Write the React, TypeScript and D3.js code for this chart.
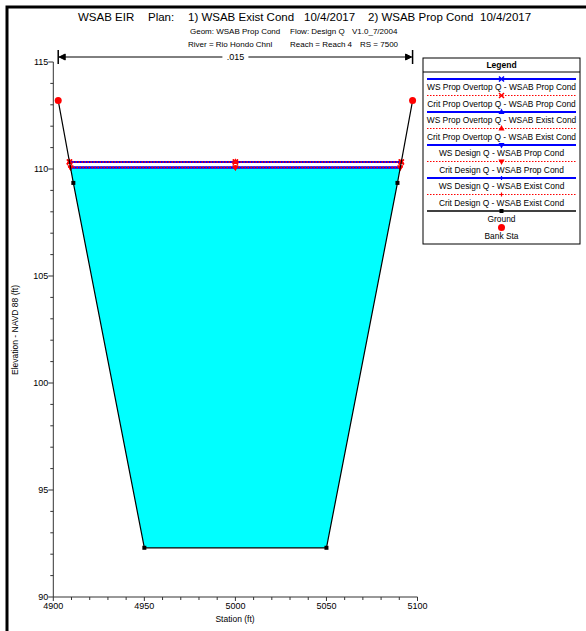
import React, { useEffect } from "react";
import * as d3 from "d3";

const groundSta = [4902.7, 4911, 4950, 5050, 5089, 5097.3];
const groundElev = [113.2, 109.35, 92.3, 92.3, 109.35, 113.2];
const bankSta = [4902.7, 5097.3];
const bankElev = [113.2, 113.2];
const profileNames = [
  "WS Prop Overtop Q - WSAB Prop Cond",
  "Crit Prop Overtop Q - WSAB Prop Cond",
  "WS Prop Overtop Q - WSAB Exist Cond",
  "Crit Prop Overtop Q - WSAB Exist Cond",
  "WS Design Q - WSAB Prop Cond",
  "Crit Design Q - WSAB Prop Cond",
  "WS Design Q - WSAB Exist Cond",
  "Crit Design Q - WSAB Exist Cond",
];
const profileElev = [110.33, 110.33, 110.33, 110.33, 110.07, 110.07, 110.07, 110.07];
const profileMarker = ["x", "x", "tri-up", "tri-up", "tri-down", "tri-down", "plus", "plus"];
const xTicks = [4900, 4950, 5000, 5050, 5100];
const yTicks = [90, 95, 100, 105, 110, 115];
const manningN = [".015"];

const FONT = "'Liberation Sans', Arial, sans-serif";

function intersect(elev: number) {
  const pts = groundSta.map((s, i) => [s, groundElev[i]]);
  let left = 0, right = 0;
  for (let i = 0; i < pts.length - 1; i++) {
    const [x1, y1] = pts[i], [x2, y2] = pts[i + 1];
    if ((y1 - elev) * (y2 - elev) <= 0 && y1 !== y2) {
      const x = x1 + ((elev - y1) / (y2 - y1)) * (x2 - x1);
      if (y1 > y2) left = x; else right = x;
    }
  }
  return [left, right];
}

function Marker({ type, cx, cy, color }: { type: string; cx: number; cy: number; color: string }) {
  if (type === "x")
    return <path d={`M${cx - 2.5},${cy - 2.5}L${cx + 2.5},${cy + 2.5}M${cx - 2.5},${cy + 2.5}L${cx + 2.5},${cy - 2.5}`} stroke={color} strokeWidth={1.5} />;
  if (type === "tri-up")
    return <path d={`M${cx},${cy - 3.5}L${cx + 3},${cy + 2}L${cx - 3},${cy + 2}Z`} fill={color} />;
  if (type === "tri-down")
    return <path d={`M${cx},${cy + 3.5}L${cx + 3},${cy - 2}L${cx - 3},${cy - 2}Z`} fill={color} />;
  if (type === "plus")
    return <path d={`M${cx - 2},${cy}L${cx + 2},${cy}M${cx},${cy - 2}L${cx},${cy + 2}`} stroke={color} strokeWidth={1.2} />;
  return null;
}

export default function App() {
  useEffect(() => {
    document.body.style.margin = "0";
  }, []);
  const W = 586, H = 631;
  const x = d3.scaleLinear().domain([4900, 5100]).range([53.3, 417.5]);
  const y = d3.scaleLinear().domain([90, 115]).range([597, 62]);

  const line = d3.line<number>().x((_, i) => x(groundSta[i])).y((d) => y(d));
  const groundPath = line(groundElev) as string;

  const fillElev = profileElev[4];
  const [wl, wr] = intersect(fillElev);
  const waterPts: [number, number][] = [[wl, fillElev]];
  groundSta.forEach((s, i) => {
    if (groundElev[i] < fillElev) waterPts.push([s, groundElev[i]]);
  });
  waterPts.push([wr, fillElev]);
  const waterPath = d3.line<[number, number]>().x((d) => x(d[0])).y((d) => y(d[1]))(waterPts) + "Z";

  const xMinor = d3.range(4900, 5101, 10);
  const yMinor = d3.range(90, 115.01, 1);

  const legX0 = 423, legX1 = 580, legY0 = 58;
  const rowH = 16.5;
  const legCx = (legX0 + legX1) / 2;

  const nx0 = x(bankSta[0]), nx1 = x(bankSta[1]), ny = 57;
  const ncx = (nx0 + nx1) / 2;

  return (
    <svg width={W} height={H} style={{ display: "block", fontFamily: FONT }}>
      <rect x={0} y={0} width={W} height={H} fill="white" />
      <rect x={7} y={7} width={W + 20} height={H + 20} fill="none" stroke="black" strokeWidth={3} />

      {/* titles */}
      <g fontSize={11.5} fill="black">
        <text x={78} y={21}>WSAB EIR</text>
        <text x={148} y={21}>Plan:</text>
        <text x={188} y={21}>1) WSAB Exist Cond</text>
        <text x={304} y={21}>10/4/2017</text>
        <text x={368} y={21}>2) WSAB Prop Cond</text>
        <text x={480} y={21}>10/4/2017</text>
      </g>
      <g fontSize={8} fill="black">
        <text x={190} y={34}>Geom: WSAB Prop Cond</text>
        <text x={290} y={34}>Flow: Design Q</text>
        <text x={352} y={34}>V1.0_7/2004</text>
        <text x={188} y={47}>River = Rio Hondo Chnl</text>
        <text x={290} y={47}>Reach = Reach 4</text>
        <text x={360} y={47}>RS = 7500</text>
      </g>

      {/* manning n */}
      <g stroke="black" strokeWidth={1}>
        <line x1={nx0} x2={nx0} y1={ny - 7} y2={ny + 7} strokeWidth={1.5} />
        <line x1={nx1} x2={nx1} y1={ny - 7} y2={ny + 7} strokeWidth={1.5} />
        <line x1={nx0 + 1} x2={ncx - 13} y1={ny} y2={ny} />
        <line x1={ncx + 13} x2={nx1 - 1} y1={ny} y2={ny} />
        <path d={`M${nx0 + 1},${ny}L${nx0 + 7},${ny - 3}L${nx0 + 7},${ny + 3}Z`} fill="black" />
        <path d={`M${nx1 - 1},${ny}L${nx1 - 7},${ny - 3}L${nx1 - 7},${ny + 3}Z`} fill="black" />
      </g>
      <text x={ncx} y={ny + 3} fontSize={9} textAnchor="middle">{manningN[0]}</text>

      {/* water */}
      <path d={waterPath} fill="#00FFFF" stroke="none" />

      {/* profiles */}
      {profileNames.map((n, i) => {
        const [l, r] = intersect(profileElev[i]);
        const isWS = i % 2 === 0;
        return (
          <g key={n}>
            <line x1={x(l)} x2={x(r)} y1={y(profileElev[i])} y2={y(profileElev[i])}
              stroke={isWS ? "#0000FF" : "#FF0000"} strokeWidth={isWS ? 2 : 1.5}
              strokeDasharray={isWS ? undefined : "1.5,1.5"} />
          </g>
        );
      })}
      {profileNames.map((n, i) => {
        const [l, r] = intersect(profileElev[i]);
        const color = "#FF0000";
        return (
          <g key={n + "m"}>
            {[l, 5000, r].map((s, k) => (
              <Marker key={k} type={profileMarker[i]} cx={x(s)} cy={y(profileElev[i])} color={color} />
            ))}
          </g>
        );
      })}

      {/* ground */}
      <path d={groundPath} fill="none" stroke="black" strokeWidth={1.2} />
      {groundSta.map((s, i) => (
        <rect key={i} x={x(s) - 2} y={y(groundElev[i]) - 2} width={4} height={4} fill="black" />
      ))}
      {bankSta.map((s, i) => (
        <circle key={i} cx={x(s)} cy={y(bankElev[i])} r={3.5} fill="#FF0000" />
      ))}

      {/* axes */}
      <g stroke="#333" strokeWidth={1}>
        <line x1={x(4900)} x2={x(4900)} y1={y(90)} y2={y(115)} />
        <line x1={x(4900)} x2={x(5100)} y1={y(90)} y2={y(90)} />
        {yMinor.map((v) => (
          <line key={v} x1={x(4900) - (v % 5 === 0 ? 5 : 3)} x2={x(4900)} y1={y(v)} y2={y(v)} />
        ))}
        {xMinor.map((v) => (
          <line key={v} y1={y(90)} y2={y(90) + (v % 50 === 0 ? 4 : 3)} x1={x(v)} x2={x(v)} />
        ))}
      </g>
      <g fontSize={9} fill="black">
        {yTicks.map((v) => (
          <text key={v} x={x(4900) - 5} y={y(v) + 3} textAnchor="end">{v}</text>
        ))}
        {xTicks.map((v) => (
          <text key={v} x={x(v)} y={y(90) + 12} textAnchor="middle">{v}</text>
        ))}
        <text x={235} y={622} textAnchor="middle" fontSize={8.5}>Station (ft)</text>
        <text transform={`translate(18,330) rotate(-90)`} textAnchor="middle" fontSize={8.5}>Elevation - NAVD 88 (ft)</text>
      </g>

      {/* legend */}
      <rect x={legX0} y={legY0} width={legX1 - legX0} height={186} fill="white" stroke="black" strokeWidth={1} />
      <line x1={legX0} x2={legX1} y1={legY0 + 14} y2={legY0 + 14} stroke="black" />
      <text x={legCx} y={legY0 + 10} fontSize={8.5} fontWeight="bold" textAnchor="middle">Legend</text>
      {profileNames.map((n, i) => {
        const ly = 79 + i * rowH;
        const isWS = i % 2 === 0;
        return (
          <g key={n}>
            <line x1={legX0 + 4} x2={legX1 - 4} y1={ly} y2={ly}
              stroke={isWS ? "#0000FF" : "#FF0000"} strokeWidth={isWS ? 2 : 1.2}
              strokeDasharray={isWS ? undefined : "1.5,1.5"} />
            <Marker type={profileMarker[i]} cx={legCx} cy={ly} color={isWS ? "#0000FF" : "#FF0000"} />
            <text x={legCx} y={ly + 11} fontSize={8.4} textAnchor="middle">{n}</text>
          </g>
        );
      })}
      <g>
        <line x1={legX0 + 4} x2={legX1 - 4} y1={79 + 8 * rowH} y2={79 + 8 * rowH} stroke="black" strokeWidth={1.5} />
        <rect x={legCx - 2} y={79 + 8 * rowH - 2} width={4} height={4} fill="black" />
        <text x={legCx} y={79 + 8 * rowH + 11} fontSize={8.4} textAnchor="middle">Ground</text>
        <circle cx={legCx} cy={79 + 9 * rowH} r={3.5} fill="#FF0000" />
        <text x={legCx} y={79 + 9 * rowH + 11} fontSize={8.4} textAnchor="middle">Bank Sta</text>
      </g>
    </svg>
  );
}
